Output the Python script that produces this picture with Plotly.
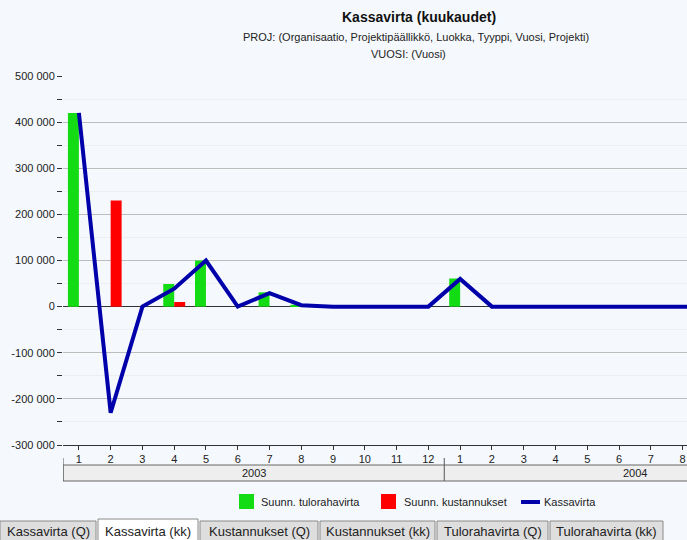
import plotly.graph_objects as go

# ---------------- data ----------------
years = ["2003", "2004"]
months = ["1", "2", "3", "4", "5", "6", "7", "8", "9", "10", "11", "12"]
month_labels = months + months  # 2003 months followed by 2004 months

tulorahavirta = [420000, 0, 0, 49000, 100000, 0, 31000, 4000, 0, 0, 0, 0,
                 61000, 0, 0, 0, 0, 0, 0, 0, 0, 0, 0, 0]
kustannukset = [0, 230000, 0, 10000, 0, 0, 0, 0, 0, 0, 0, 0,
                0, 0, 0, 0, 0, 0, 0, 0, 0, 0, 0, 0]
kassavirta = [420000, -230000, 0, 39000, 100000, 0, 29000, 3000, 0, 0, 0, 0,
              60000, 0, 0, 0, 0, 0, 0, 0, 0, 0, 0, 0]

y_tickvals = [-300000, -200000, -100000, 0, 100000, 200000, 300000, 400000, 500000]
y_ticktext = ["-300 000", "-200 000", "-100 000", "0", "100 000", "200 000",
              "300 000", "400 000", "500 000"]

series_names = ["Suunn. tulorahavirta", "Suunn. kustannukset", "Kassavirta"]
series_colors = ["#14DC14", "#FF0000", "#0000AA"]

title_text = "Kassavirta (kuukaudet)"
subtitle1 = "PROJ: (Organisaatio, Projektipäällikkö, Luokka, Tyyppi, Vuosi, Projekti)"
subtitle2 = "VUOSI: (Vuosi)"

tabs = ["Kassavirta (Q)", "Kassavirta (kk)", "Kustannukset (Q)",
        "Kustannukset (kk)", "Tulorahavirta (Q)", "Tulorahavirta (kk)"]
active_tab = 1

# ---------------- layout helpers ----------------
W, H = 687, 540
ML, MR, MT, MB = 63, 0, 76, 95
PW = W - ML - MR
PH = H - MT - MB


def px(p):
    return (p - ML) / PW


def py(p):
    return (H - MB - p) / PH


FONT = "Arial, Liberation Sans, sans-serif"
TXT = "#222222"
BG = "#F5F9FD"

x_idx = list(range(len(month_labels)))

fig = go.Figure()
fig.add_trace(go.Bar(x=x_idx, y=tulorahavirta, name=series_names[0],
                     marker=dict(color=series_colors[0], line=dict(width=0))))
fig.add_trace(go.Bar(x=x_idx, y=kustannukset, name=series_names[1],
                     marker=dict(color=series_colors[1], line=dict(width=0))))
fig.add_trace(go.Scatter(x=x_idx, y=kassavirta, name=series_names[2], mode="lines",
                         line=dict(color=series_colors[2], width=4)))

shapes = []
annotations = []

# title block
annotations.append(dict(text="<b>" + title_text + "</b>", x=px(419), y=py(17), xref="paper", yref="paper",
                        showarrow=False, xanchor="center", yanchor="middle",
                        font=dict(size=14, color="#111111", family=FONT)))
annotations.append(dict(text=subtitle1, x=px(416), y=py(37), xref="paper", yref="paper",
                        showarrow=False, xanchor="center", yanchor="middle",
                        font=dict(size=11, color=TXT, family=FONT)))
annotations.append(dict(text=subtitle2, x=px(408), y=py(54), xref="paper", yref="paper",
                        showarrow=False, xanchor="center", yanchor="middle",
                        font=dict(size=11, color=TXT, family=FONT)))

# year band under month axis
n_per_year = len(months)
shapes.append(dict(type="rect", xref="x", yref="paper", x0=-0.5, x1=len(month_labels) - 0.5,
                   y0=py(481), y1=py(465), fillcolor="#EEEEEE",
                   line=dict(color="#666666", width=1), layer="above"))
for k in range(len(years)):
    xb = k * n_per_year - 0.5
    shapes.append(dict(type="line", xref="x", yref="paper", x0=xb, x1=xb,
                       y0=py(481), y1=py(458), line=dict(color="#555555", width=1)))
    annotations.append(dict(text=years[k], x=k * n_per_year + (n_per_year - 1) / 2, y=py(473),
                            xref="x", yref="paper", showarrow=False, xanchor="center",
                            yanchor="middle", font=dict(size=11, color=TXT, family=FONT)))

# legend (drawn manually to match original layout)
leg_items = [(239, 259), (381, 402)]
for i, (sx, tx) in enumerate(leg_items):
    shapes.append(dict(type="rect", xref="paper", yref="paper", x0=px(sx), x1=px(sx + 15),
                       y0=py(509), y1=py(494), fillcolor=series_colors[i], line=dict(width=0)))
    annotations.append(dict(text=series_names[i], x=px(tx), y=py(502), xref="paper", yref="paper",
                            showarrow=False, xanchor="left", yanchor="middle",
                            font=dict(size=11, color=TXT, family=FONT)))
shapes.append(dict(type="line", xref="paper", yref="paper", x0=px(521), x1=px(540),
                   y0=py(502), y1=py(502), line=dict(color=series_colors[2], width=4)))
annotations.append(dict(text=series_names[2], x=px(542), y=py(502), xref="paper", yref="paper",
                        showarrow=False, xanchor="left", yanchor="middle",
                        font=dict(size=11, color=TXT, family=FONT)))

# tabs at the bottom
tab_edges = [(0, 96), (98, 198), (200, 318), (320, 435), (437, 548), (550, 663)]
for i, (t, (a, b)) in enumerate(zip(tabs, tab_edges)):
    active = i == active_tab
    shapes.append(dict(type="rect", xref="paper", yref="paper", x0=px(a), x1=px(b),
                       y0=py(542), y1=py(519 if active else 521),
                       fillcolor="#FFFFFF" if active else "#DEDEDE",
                       line=dict(color="#8A8A8A", width=1)))
    annotations.append(dict(text=t, x=px((a + b) / 2), y=py(531), xref="paper", yref="paper",
                            showarrow=False, xanchor="center", yanchor="middle",
                            font=dict(size=13, color=TXT, family=FONT)))

fig.update_layout(
    width=W, height=H,
    margin=dict(l=ML, r=MR, t=MT, b=MB, pad=0),
    paper_bgcolor=BG, plot_bgcolor=BG,
    barmode="group", bargap=0.31, bargroupgap=0,
    showlegend=False,
    font=dict(family=FONT, size=11, color=TXT),
    shapes=shapes, annotations=annotations,
    xaxis=dict(range=[-0.5, 19.14], tickmode="array", tickvals=x_idx, ticktext=month_labels,
               showgrid=False, zeroline=False, showline=True, linecolor="#333333", linewidth=1,
               ticks="outside", ticklen=4, tickcolor="#333333",
               tickfont=dict(size=11, color=TXT, family=FONT), fixedrange=True),
    yaxis=dict(range=[-300000, 500000], tickmode="array", tickvals=y_tickvals, ticktext=y_ticktext,
               showgrid=True, gridcolor="#BDBDBD", gridwidth=1,
               zeroline=True, zerolinecolor="#333333", zerolinewidth=1,
               showline=False, ticks="outside", ticklen=5, tickcolor="#333333",
               tickfont=dict(size=11, color=TXT, family=FONT),
               minor=dict(dtick=50000, tick0=0, ticks="outside", ticklen=5, tickcolor="#333333",
                          showgrid=True, gridcolor="#ECEEF0", gridwidth=1),
               fixedrange=True),
)

fig.write_html("out.html",
               post_script="document.body.style.margin='0px';"
                           "document.body.style.overflow='hidden';"
                           "document.body.style.background='" + BG + "';",
               config={"displayModeBar": False})
